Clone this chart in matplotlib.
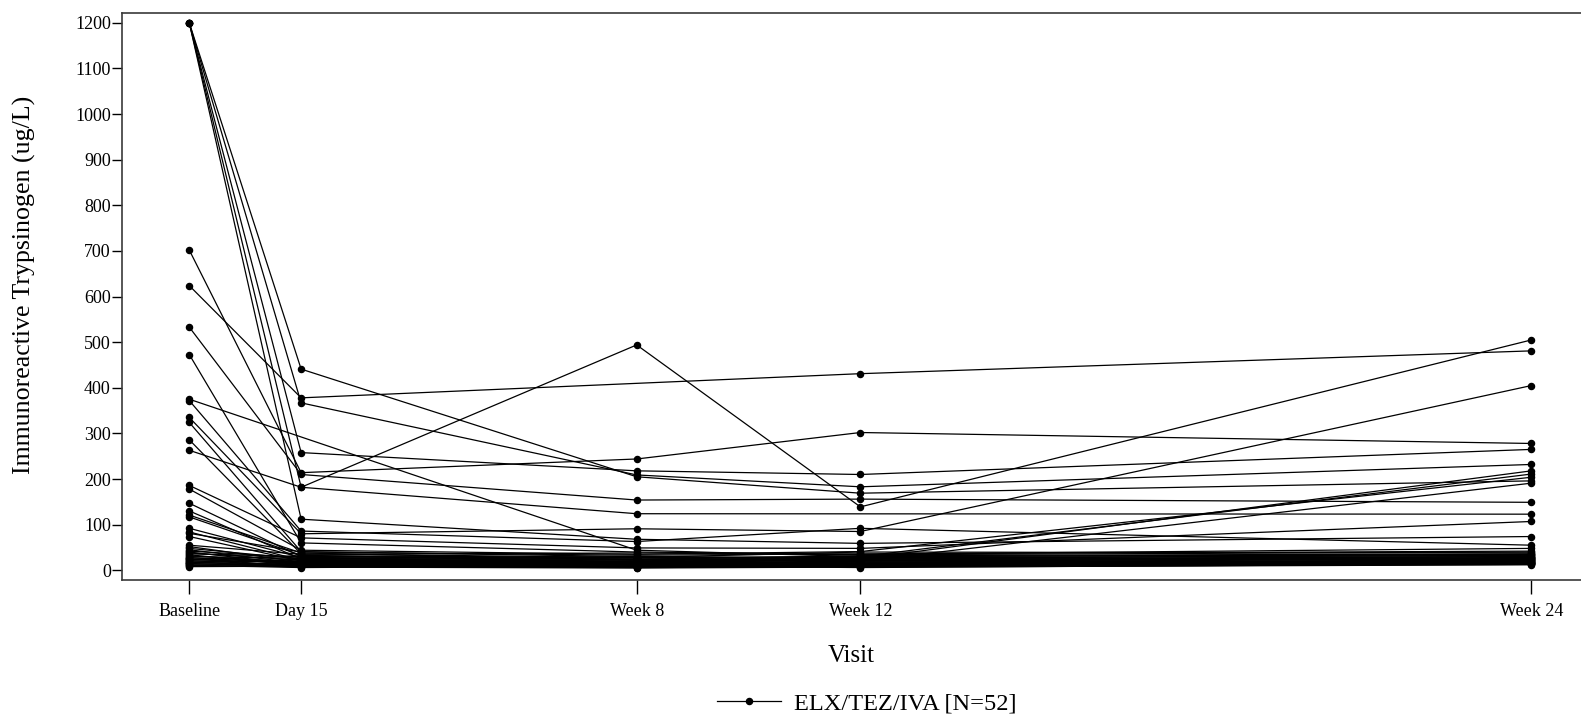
import numpy as np
import matplotlib
matplotlib.use("Agg")
import matplotlib.pyplot as plt
from matplotlib.lines import Line2D

nan = np.nan
visit_labels = ["Baseline", "Day 15", "Week 8", "Week 12", "Week 24"]
visit_days = [0, 14, 56, 84, 168]

baseline = [1200, 1200, 1200, 1200, 1200, 624, 702, 533, 473, 375, 372, 335, 324, 286, 263,
            186, 178, 147, 130, 121, 117, 92, 84, 81, 74,
            55, 52, 48, 45, 42, 40, 38, 36, 34, 32, 30, 28, 27, 25, 24, 22, 21, 20, 18, 17,
            16, 15, 14, 12, 11, 10, 8]
day15 = [441, 367, 258, 182, 112, 378, 214, 210, 60, nan, 86, 80, 41, 36, 182,
         71, 44, 30, 25, 38, 33, 28, 22, 40, 20,
         35, 18, 25, 15, 28, 12, 22, 30, 10, 17, 26, 14, 20, 9, 16, 32, 11, 19, 8, 13,
         24, 7, 12, 10, 6, 15, 9]
week8 = [205, 209, 218, 494, 68, nan, 244, 154, 40, 44, 63, 91, 30, 28, 124,
         49, 35, 25, 20, 22, 18, 15, 12, 33, 14,
         38, 16, 30, 12, 24, 10, 20, 27, 8, 19, 22, 15, 18, 7, 12, 28, 9, 24, 6, 11,
         17, 5, 14, 8, 10, 13, 7]
week12 = [169, 183, 210, 139, 59, 431, 302, 156, 35, 30, 92, 85, 25, 40, nan,
          48, 41, 20, 30, 28, 22, 18, 15, 36, 12,
          34, 20, 26, 14, 32, 12, 24, 22, 10, 16, 28, 13, 25, 9, 18, 30, 11, 20, 8, 14,
          22, 7, 10, 16, 6, 12, 9]
week24 = [196, 232, 265, 505, 74, 481, 278, 149, 48, 35, 55, 405, 218, 38, 123,
          107, 204, 191, 211, 32, 30, 25, 22, 42, 20,
          40, 28, 33, 18, 36, 16, 27, 30, 15, 22, 25, 20, 30, 14, 22, 34, 17, 26, 13, 19,
          24, 12, 16, 21, 14, 18, 15]

legend_label = "ELX/TEZ/IVA [N=52]"

plt.rcParams['font.family'] = ['Liberation Serif', 'DejaVu Serif']

fig = plt.figure(figsize=(15.81, 7.15), dpi=100)
ax = fig.add_axes([121.7 / 1581, 1 - 580 / 715, 1 - 121.7 / 1581, (580 - 13.3) / 715])

data = np.array([baseline, day15, week8, week12, week24], dtype=float).T
x = np.array(visit_days, dtype=float)
for row in data:
    m = ~np.isnan(row)
    ax.plot(x[m], row[m], color='black', linewidth=0.9, marker='o',
            markersize=4.4, markerfacecolor='black', markeredgecolor='black',
            zorder=3)

ax.set_xlim(-8.46, 174.2)
ax.set_ylim(-21.3, 1221)
ax.set_xticks(visit_days)
ax.set_xticklabels(visit_labels, fontsize=13)
ax.set_yticks(np.arange(0, 1201, 100))
ax.set_yticklabels([str(v) for v in range(0, 1201, 100)], fontsize=13)
ax.tick_params(axis='x', direction='out', length=10, width=1, pad=6.5, colors='black')
ax.tick_params(axis='y', direction='out', length=7, width=1, pad=0.8, colors='black')

for side in ['left', 'bottom', 'top']:
    ax.spines[side].set_color('#3a3a3a')
    ax.spines[side].set_linewidth(1.2)
ax.spines['right'].set_visible(False)

ax.set_xlabel("Visit", fontsize=18, labelpad=18)
ax.set_ylabel("Immunoreactive Trypsinogen (ug/L)", fontsize=18.6, labelpad=28)
ax.yaxis.label.set_y(0.52)

handle = Line2D([0], [0], color='black', linewidth=0.9, marker='o', markersize=4.4)
fig.legend([handle], [legend_label], loc='center', bbox_to_anchor=(867 / 1581, 1 - 703.5 / 715),
           frameon=False, fontsize=17.6, handlelength=2.6, handletextpad=0.55,
           borderpad=0.05, borderaxespad=0.0)

fig.savefig("out.png", dpi=100)
